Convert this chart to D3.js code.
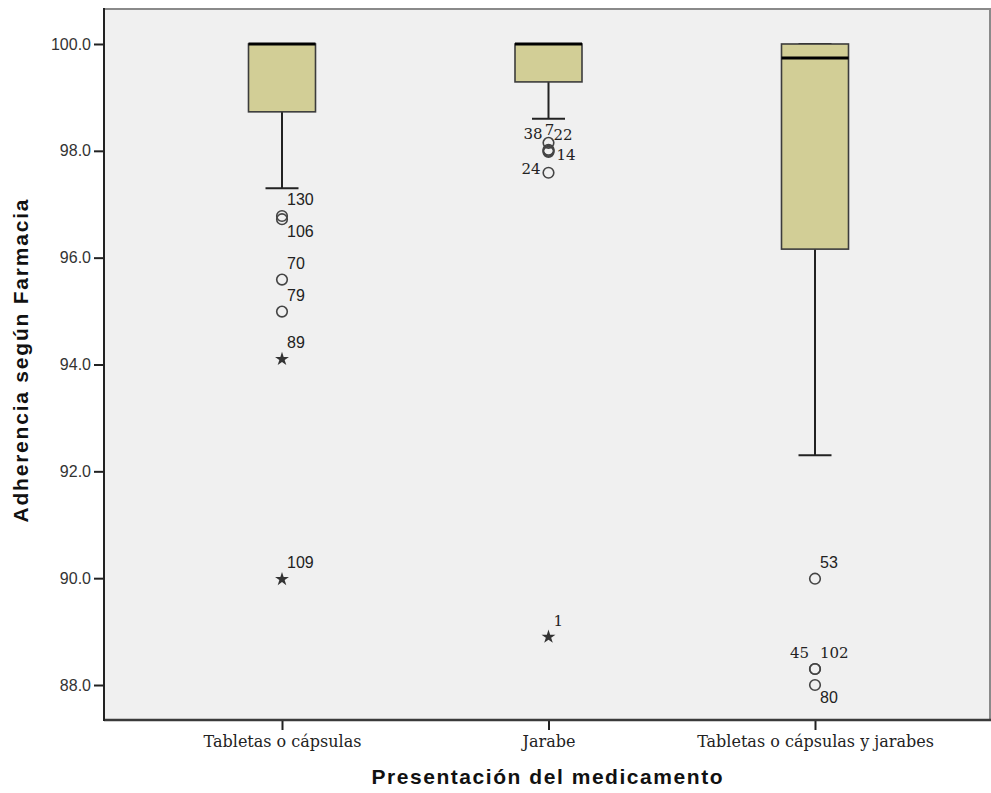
<!DOCTYPE html>
<html>
<head>
<meta charset="utf-8">
<script src="https://cdn.jsdelivr.net/npm/d3@7"></script>
<style>
  body { margin: 0; background: #fff; }
  svg { display: block; }
</style>
</head>
<body>
<svg id="chart" width="991" height="793"></svg>
<script>
// categories on the x axis
var categories = ["Tabletas o cápsulas", "Jarabe", "Tabletas o cápsulas y jarabes"];

// box statistics, one value per category
var whiskerLow  = [97.30, 98.60, 92.30];
var q1          = [98.73, 99.29, 96.16];
var median      = [100.0, 100.0, 99.74];
var q3          = [100.0, 100.0, 100.0];
var whiskerHigh = [100.0, 100.0, 100.0];

// outliers (circle) and extremes (star)
var outlierGroup = [0, 0, 0, 0, 0, 0, 1, 1, 1, 1, 1, 1, 2, 2, 2, 2];
var outlierValue = [96.78, 96.72, 95.59, 94.99, 94.10, 89.98, 98.15, 98.02, 98.00, 97.98, 97.59, 88.90, 89.99, 88.30, 88.30, 88.00];
var outlierId    = [130, 106, 70, 79, 89, 109, 7, 38, 22, 14, 24, 1, 53, 45, 102, 80];
var outlierKind  = ["o", "o", "o", "o", "*", "*", "o", "o", "o", "o", "o", "*", "o", "o", "o", "o"];
// which side of the mark the case number is written on
var labelSide    = ["ne", "se", "ne", "ne", "ne", "ne", "n", "nw", "ne", "e", "w", "ne", "ne", "nw", "ne", "se"];

// y axis ticks and extent
var yTicks = [88, 90, 92, 94, 96, 98, 100];
var yExtent = [87.345, 100.655];

// case numbers that SPSS drew with the serif face
var serifIds = [7, 38, 22, 14, 24, 1, 45, 102];

var svg = d3.select("#chart");

// plot frame
var plotLeft = 104, plotTop = 9, plotRight = 990, plotBottom = 720;

var y = d3.scaleLinear().domain(yExtent).range([plotBottom, plotTop]);
var x = d3.scalePoint().domain(categories).range([282, 815]);

var boxHalf = 33.5, capHalf = 16.5;

// grey plot background
svg.append("rect")
  .attr("x", plotLeft).attr("y", plotTop)
  .attr("width", plotRight - plotLeft).attr("height", plotBottom - plotTop)
  .attr("fill", "#f0f0f0");

// frame lines: top and right light, bottom and left dark
svg.append("line").attr("x1", plotLeft).attr("x2", plotRight + 1).attr("y1", plotTop).attr("y2", plotTop)
  .attr("stroke", "#8a8a8a").attr("stroke-width", 2);
svg.append("line").attr("x1", plotRight).attr("x2", plotRight).attr("y1", plotTop).attr("y2", plotBottom)
  .attr("stroke", "#8a8a8a").attr("stroke-width", 2);

// y axis
var yAxis = svg.append("g")
  .attr("transform", "translate(" + plotLeft + ",0)")
  .call(d3.axisLeft(y).tickValues(yTicks).tickFormat(d3.format(".1f")).tickSize(10).tickPadding(3));
yAxis.select(".domain").remove();
yAxis.selectAll(".tick line").attr("stroke", "#222").attr("stroke-width", 2);
yAxis.selectAll(".tick text")
  .attr("fill", "#333")
  .style("font-family", "'Liberation Sans', Arial, sans-serif")
  .style("font-size", "16px");

// x axis
var xAxis = svg.append("g")
  .attr("transform", "translate(0," + plotBottom + ")")
  .call(d3.axisBottom(x).tickSize(10).tickPadding(6));
xAxis.select(".domain").remove();
xAxis.selectAll(".tick line").attr("stroke", "#222").attr("stroke-width", 2);
xAxis.selectAll(".tick text")
  .attr("fill", "#222")
  .style("font-family", "'DejaVu Serif', serif")
  .style("font-size", "16px");

svg.append("line").attr("x1", plotLeft).attr("x2", plotRight + 1).attr("y1", plotBottom).attr("y2", plotBottom)
  .attr("stroke", "#3a3a3a").attr("stroke-width", 2.5);
svg.append("line").attr("x1", plotLeft).attr("x2", plotLeft).attr("y1", plotTop - 1).attr("y2", plotBottom + 1)
  .attr("stroke", "#222").attr("stroke-width", 2);

// boxes
var boxes = svg.append("g").attr("class", "boxes")
  .selectAll("g").data(categories).enter().append("g");

boxes.each(function(cat, i){
  var g = d3.select(this);
  var cx = x(cat);
  // whisker stems
  g.append("line").attr("x1", cx).attr("x2", cx)
    .attr("y1", y(q1[i])).attr("y2", y(whiskerLow[i]))
    .attr("stroke", "#222").attr("stroke-width", 2);
  g.append("line").attr("x1", cx).attr("x2", cx)
    .attr("y1", y(q3[i])).attr("y2", y(whiskerHigh[i]))
    .attr("stroke", "#222").attr("stroke-width", 2);
  // whisker caps
  g.append("line").attr("x1", cx - capHalf).attr("x2", cx + capHalf)
    .attr("y1", y(whiskerLow[i])).attr("y2", y(whiskerLow[i]))
    .attr("stroke", "#222").attr("stroke-width", 2);
  g.append("line").attr("x1", cx - capHalf).attr("x2", cx + capHalf)
    .attr("y1", y(whiskerHigh[i])).attr("y2", y(whiskerHigh[i]))
    .attr("stroke", "#222").attr("stroke-width", 2);
  // box
  g.append("rect")
    .attr("x", cx - boxHalf).attr("width", boxHalf * 2)
    .attr("y", y(q3[i])).attr("height", y(q1[i]) - y(q3[i]))
    .attr("fill", "#d2ce96").attr("stroke", "#3c3c3c").attr("stroke-width", 1.6);
  // median
  g.append("line").attr("x1", cx - boxHalf).attr("x2", cx + boxHalf)
    .attr("y1", y(median[i])).attr("y2", y(median[i]))
    .attr("stroke", "#000").attr("stroke-width", 3);
});

// outliers
var pts = svg.append("g").attr("class", "outliers");
var star = d3.symbol().type(d3.symbolStar).size(60);

outlierValue.forEach(function(v, k){
  var cx = x(categories[outlierGroup[k]]);
  var cy = y(v);
  if (outlierKind[k] == "o") {
    pts.append("circle").attr("cx", cx).attr("cy", cy).attr("r", 5.3)
      .attr("fill", "none").attr("stroke", "#444").attr("stroke-width", 1.6);
  } else {
    pts.append("path").attr("d", star)
      .attr("transform", "translate(" + cx + "," + cy + ")")
      .attr("fill", "#333");
  }

  // case number placement
  var side = labelSide[k], dx = 5, dy = -11, anchor = "start";
  switch(side){
    case "se": dx = 5; dy = 18; break;
    case "nw": dx = -6; dy = -11; anchor = "end"; break;
    case "n":  dx = 1; dy = -8; anchor = "middle"; break;
    case "e":  dx = 8; dy = 8; break;
    case "w":  dx = -8; dy = 1; anchor = "end"; break;
  }
  var serif = serifIds.indexOf(outlierId[k]) >= 0;
  pts.append("text")
    .attr("x", cx + dx).attr("y", cy + dy)
    .attr("text-anchor", anchor)
    .attr("fill", "#222")
    .style("font-family", serif ? "'DejaVu Serif', serif" : "'Liberation Sans', Arial, sans-serif")
    .style("font-size", serif ? "15px" : "16px")
    .text(outlierId[k]);
});

// axis titles
svg.append("text")
  .attr("x", 547).attr("y", 784)
  .attr("text-anchor", "middle")
  .attr("textLength", 351).attr("lengthAdjust", "spacing")
  .style("font-family", "'Liberation Sans', Arial, sans-serif")
  .style("font-weight", "bold").style("font-size", "21px")
  .attr("fill", "#111")
  .text("Presentación del medicamento");

svg.append("text")
  .attr("transform", "translate(28,361) rotate(-90)")
  .attr("text-anchor", "middle")
  .attr("textLength", 323).attr("lengthAdjust", "spacing")
  .style("font-family", "'Liberation Sans', Arial, sans-serif")
  .style("font-weight", "bold").style("font-size", "21px")
  .attr("fill", "#111")
  .text("Adherencia según Farmacia");
</script>
</body>
</html>
